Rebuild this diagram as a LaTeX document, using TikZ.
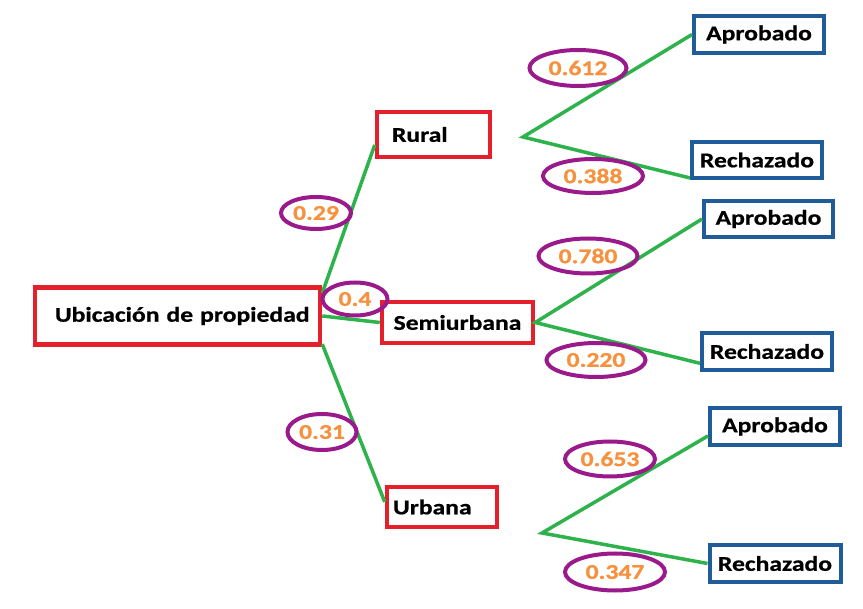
\documentclass[tikz,border=0pt]{standalone}
\usepackage{fontspec}
\usepackage{xcolor}
\usepackage{tikz}
\usetikzlibrary{shapes.geometric,calc}
\newfontfamily\diagfont{Carlito}[FakeStretch=1.22,FakeBold=0.8]
\definecolor{boxred}{HTML}{E4202C}
\definecolor{boxblue}{HTML}{1F5C99}
\definecolor{branchgreen}{HTML}{2EB24B}
\definecolor{ovalpurple}{HTML}{9A1A8C}
\definecolor{probtext}{HTML}{F7913D}
\pgfkeys{tikz/treeenv/.style={x=1pt,y=-1pt,font=\diagfont\bfseries\fontsize{21}{24}\selectfont}}
\pgfkeys{tikz/casebox/.style={draw=boxred,line width=4.5pt,inner sep=0pt,text=black}}
\pgfkeys{tikz/outbox/.style={draw=boxblue,line width=4pt,inner sep=0pt,text=black}}
\pgfkeys{tikz/probval/.style={ellipse,draw=ovalpurple,line width=4pt,inner sep=0pt,text=probtext}}
\pgfkeys{tikz/branch/.style={draw=branchgreen,line width=3.5pt}}
\pgfkeys{tikz/boxsize/.style 2 args={minimum width=#1pt,minimum height=#2pt}}

\begin{document}
\begin{tikzpicture}[treeenv]
    \useasboundingbox[fill=white] (0,0) rectangle (863,609);
    \node[casebox,boxsize={285}{57},text width=264pt,align=right] (root) at (177.5,316) {Ubicación de propiedad};
    \node[casebox,boxsize={113}{45},text width=83pt,align=left] (rural) at (433.5,134.5) {Rural};
    \node[casebox,boxsize={151}{41}] (semi) at (457.5,322.5) {Semiurbana};
    \node[casebox,boxsize={110}{40},text width=98pt,align=left] (urbana) at (442,507) {Urbana};
    \node[outbox,boxsize={130}{37}] (apr1) at (759,34.5) {Aprobado};
    \node[outbox,boxsize={130}{36}] (rech1) at (757,160) {Rechazado};
    \node[outbox,boxsize={129}{36}] (apr2) at (768.5,219) {Aprobado};
    \node[outbox,boxsize={130}{37}] (rech2) at (767,351.5) {Rechazado};
    \node[outbox,boxsize={130}{37}] (apr3) at (775,426.5) {Aprobado};
    \node[outbox,boxsize={131}{37}] (rech3) at (775,563.5) {Rechazado};
    \coordinate (ruralfork) at (523,137);
    \coordinate (urbanafork) at (542,533);
    \draw[branch] (root.9) -- (rural.-170);
    \draw[branch] (root.east) -- (semi.west);
    \draw[branch] (root.-11) -- (urbana.175);
    \draw[branch] (apr1.west) -- (ruralfork) -- (rech1.-165);
    \draw[branch] (apr2.west) -- (semi.east) -- (rech2.-170);
    \draw[branch] (apr3.-172) -- (urbanafork) -- (rech3.west);
    \node[probval,boxsize={70}{32}] (p29) at (316,213) {0.29};
    \node[probval,boxsize={65}{33}] (p4) at (355,299) {0.4};
    \node[probval,boxsize={69}{36}] (p31) at (322,432) {0.31};
    \node[probval,boxsize={97}{36}] (p612) at (578,68) {0.612};
    \node[probval,boxsize={100}{34}] (p388) at (593,176) {0.388};
    \node[probval,boxsize={99}{35}] (p780) at (588,256) {0.780};
    \node[probval,boxsize={99}{34}] (p220) at (596,360) {0.220};
    \node[probval,boxsize={90}{35}] (p653) at (610,459) {0.653};
    \node[probval,boxsize={100}{37}] (p347) at (615,572) {0.347};
\end{tikzpicture}
\end{document}
